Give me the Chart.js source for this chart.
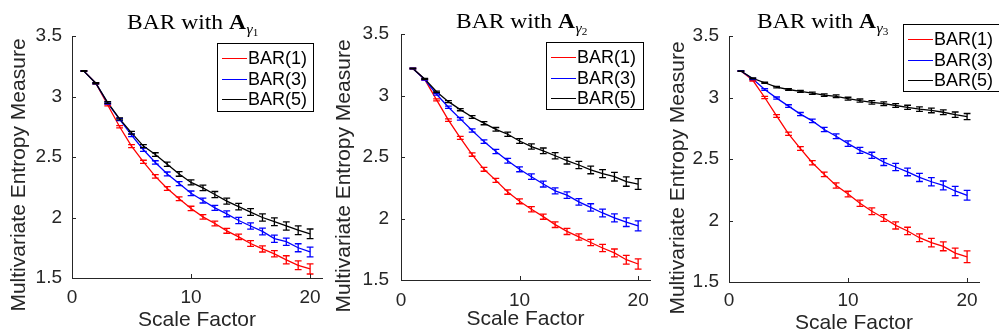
<!DOCTYPE html>
<html>
<head>
<meta charset="utf-8">
<title>Multivariate entropy of BAR models</title>
<script src="https://cdn.jsdelivr.net/npm/chart.js@4.4.1/dist/chart.umd.min.js"></script>
<style>
  html, body { margin: 0; padding: 0; background: #ffffff; }
  #wrap { position: relative; width: 999px; height: 334px; overflow: hidden; }
  .panel { position: absolute; top: 0; width: 333px; height: 334px; }
  .panel canvas { display: block; }
</style>
</head>
<body>
<div id="wrap">
  <div class="panel" style="left:0px"><canvas id="c1" width="333" height="334"></canvas></div>
  <div class="panel" style="left:333px"><canvas id="c2" width="333" height="334"></canvas></div>
  <div class="panel" style="left:666px"><canvas id="c3" width="333" height="334"></canvas></div>
</div>
<script>
// ---- data -------------------------------------------------------------
const scaleFactor = [1, 2, 3, 4, 5, 6, 7, 8, 9, 10, 11, 12, 13, 14, 15, 16, 17, 18, 19, 20];
const xTickValues = [0, 10, 20];
const yTickValues = [1.5, 2, 2.5, 3, 3.5];
const seriesNames = ['BAR(1)', 'BAR(3)', 'BAR(5)'];
const gammaIndex = ['1', '2', '3'];

// A_gamma1
const g1Bar1 = [3.21, 3.11, 2.93, 2.75, 2.59, 2.46, 2.34, 2.24, 2.155, 2.075, 2.005, 1.95, 1.89, 1.84, 1.785, 1.74, 1.70, 1.65, 1.605, 1.575];
const g1Bar3 = [3.21, 3.11, 2.945, 2.81, 2.68, 2.56, 2.455, 2.36, 2.28, 2.20, 2.14, 2.08, 2.03, 1.975, 1.93, 1.885, 1.825, 1.80, 1.75, 1.715];
const g1Bar5 = [3.21, 3.11, 2.95, 2.815, 2.70, 2.59, 2.52, 2.44, 2.36, 2.29, 2.245, 2.19, 2.135, 2.09, 2.045, 2.00, 1.965, 1.93, 1.895, 1.865];
const g1Bar1Err = [0.003, 0.005, 0.008, 0.010, 0.012, 0.013, 0.014, 0.015, 0.016, 0.018, 0.019, 0.020, 0.020, 0.022, 0.024, 0.025, 0.026, 0.034, 0.036, 0.042];
const g1Bar3Err = [0.003, 0.005, 0.008, 0.009, 0.011, 0.013, 0.014, 0.016, 0.017, 0.019, 0.020, 0.021, 0.024, 0.026, 0.026, 0.028, 0.030, 0.030, 0.033, 0.040];
const g1Bar5Err = [0.003, 0.005, 0.007, 0.009, 0.011, 0.013, 0.015, 0.017, 0.019, 0.021, 0.023, 0.025, 0.025, 0.027, 0.028, 0.030, 0.032, 0.034, 0.036, 0.040];

// A_gamma2
const g2Bar1 = [3.22, 3.13, 2.965, 2.80, 2.655, 2.52, 2.40, 2.31, 2.215, 2.14, 2.075, 2.015, 1.95, 1.895, 1.85, 1.805, 1.76, 1.72, 1.665, 1.63];
const g2Bar3 = [3.22, 3.13, 3.01, 2.905, 2.81, 2.715, 2.625, 2.545, 2.47, 2.40, 2.34, 2.28, 2.225, 2.19, 2.135, 2.09, 2.045, 2.005, 1.97, 1.94];
const g2Bar5 = [3.22, 3.135, 3.03, 2.95, 2.885, 2.825, 2.775, 2.725, 2.685, 2.63, 2.585, 2.55, 2.51, 2.47, 2.435, 2.395, 2.365, 2.34, 2.30, 2.28];
const g2Bar1Err = [0.003, 0.005, 0.008, 0.010, 0.012, 0.014, 0.016, 0.017, 0.018, 0.020, 0.021, 0.021, 0.023, 0.025, 0.025, 0.026, 0.030, 0.032, 0.036, 0.042];
const g2Bar3Err = [0.003, 0.005, 0.007, 0.009, 0.011, 0.013, 0.015, 0.017, 0.019, 0.020, 0.022, 0.024, 0.024, 0.026, 0.027, 0.030, 0.031, 0.033, 0.035, 0.040];
const g2Bar5Err = [0.003, 0.004, 0.006, 0.008, 0.009, 0.011, 0.013, 0.015, 0.017, 0.019, 0.021, 0.023, 0.025, 0.027, 0.029, 0.031, 0.033, 0.035, 0.038, 0.044];

// A_gamma3
const g3Bar1 = [3.215, 3.14, 3.00, 2.85, 2.705, 2.585, 2.47, 2.375, 2.285, 2.215, 2.14, 2.075, 2.02, 1.96, 1.915, 1.86, 1.82, 1.79, 1.735, 1.705];
const g3Bar3 = [3.215, 3.15, 3.065, 2.995, 2.93, 2.865, 2.81, 2.74, 2.685, 2.625, 2.57, 2.53, 2.475, 2.435, 2.395, 2.35, 2.315, 2.285, 2.24, 2.205];
const g3Bar5 = [3.215, 3.155, 3.12, 3.085, 3.065, 3.05, 3.035, 3.02, 3.01, 2.99, 2.975, 2.96, 2.95, 2.935, 2.92, 2.905, 2.895, 2.88, 2.86, 2.845];
const g3Bar1Err = [0.003, 0.006, 0.009, 0.011, 0.013, 0.015, 0.017, 0.019, 0.021, 0.023, 0.025, 0.027, 0.027, 0.029, 0.030, 0.032, 0.034, 0.036, 0.040, 0.048];
const g3Bar3Err = [0.003, 0.005, 0.007, 0.009, 0.011, 0.013, 0.015, 0.017, 0.019, 0.022, 0.024, 0.025, 0.028, 0.030, 0.031, 0.033, 0.034, 0.036, 0.038, 0.040];
const g3Bar5Err = [0.002, 0.004, 0.005, 0.006, 0.007, 0.008, 0.009, 0.010, 0.011, 0.012, 0.013, 0.014, 0.015, 0.016, 0.017, 0.018, 0.019, 0.020, 0.022, 0.025];

// ---- styling ----------------------------------------------------------
const W = 333, H = 334;
const seriesColors = ['#ff0000', '#0000ff', '#000000'];
const axisColor = '#262626';
const sansFamily = '"Liberation Sans", Arial, Helvetica, sans-serif';
const serifFamily = '"Liberation Serif", "Times New Roman", serif';
const capHalf = 3.4;
const lineW = 1.3;

const panels = [
  { id: 'c1', means: [g1Bar1, g1Bar3, g1Bar5], errs: [g1Bar1Err, g1Bar3Err, g1Bar5Err], sub: gammaIndex[0],
    area: { l: 72, r: 322, t: 36, b: 278 }, titleX: 127, titleY: 29, yLabelX: 19, yLabelY: 175,
    yTickPad: 10, xTickPad: 8, xTitlePad: 3, legend: { x: 217, y: 43, w: 96, h: 68 } },
  { id: 'c2', means: [g2Bar1, g2Bar3, g2Bar5], errs: [g2Bar1Err, g2Bar3Err, g2Bar5Err], sub: gammaIndex[1],
    area: { l: 68, r: 317, t: 34, b: 280 }, titleX: 123, titleY: 28, yLabelX: 11, yLabelY: 176,
    yTickPad: 12, xTickPad: 9, xTitlePad: 4, legend: { x: 213, y: 42, w: 97, h: 67 } },
  { id: 'c3', means: [g3Bar1, g3Bar3, g3Bar5], errs: [g3Bar1Err, g3Bar3Err, g3Bar5Err], sub: gammaIndex[2],
    area: { l: 63, r: 313, t: 36, b: 282 }, titleX: 91, titleY: 28, yLabelX: 12, yLabelY: 178,
    yTickPad: 10, xTickPad: 7, xTitlePad: 0, legend: { x: 237, y: 24, w: 97, h: 67 } }
];

function buildDatasets(means, errs) {
  return means.map((m, k) => ({
    label: seriesNames[k],
    data: scaleFactor.map((s, j) => ({ x: s, y: m[j] })),
    errors: errs[k],
    borderColor: seriesColors[k],
    backgroundColor: seriesColors[k],
    borderWidth: lineW,
    pointRadius: 0,
    pointHoverRadius: 0,
    tension: 0,
    fill: false,
    order: 2 - k
  }));
}

// error bars, inward ticks, legend box, title and y label
function makeDecor(p) {
  const crisp = v => Math.round(v) + 0.5;
  return {
    id: 'panelDecor',
    afterDatasetsDraw(chart) {
      const ctx = chart.ctx, xs = chart.scales.x, ys = chart.scales.y;
      chart.data.datasets.forEach(ds => {
        ctx.save();
        ctx.strokeStyle = ds.borderColor;
        ctx.lineWidth = lineW;
        ds.data.forEach((pt, j) => {
          const e = ds.errors[j];
          const px = xs.getPixelForValue(pt.x);
          const yLo = ys.getPixelForValue(pt.y - e);
          const yHi = ys.getPixelForValue(pt.y + e);
          ctx.beginPath();
          ctx.moveTo(px, yLo); ctx.lineTo(px, yHi);
          ctx.moveTo(px - capHalf, yLo); ctx.lineTo(px + capHalf, yLo);
          ctx.moveTo(px - capHalf, yHi); ctx.lineTo(px + capHalf, yHi);
          ctx.stroke();
        });
        ctx.restore();
      });
    },
    afterDraw(chart) {
      const ctx = chart.ctx, xs = chart.scales.x, ys = chart.scales.y;
      const area = chart.chartArea;
      ctx.save();
      // tick marks pointing into the plot
      ctx.strokeStyle = axisColor;
      ctx.lineWidth = 1;
      ctx.beginPath();
      xTickValues.forEach(v => {
        const px = crisp(xs.getPixelForValue(v));
        ctx.moveTo(px, area.bottom); ctx.lineTo(px, area.bottom - 4);
      });
      yTickValues.forEach(v => {
        const py = crisp(ys.getPixelForValue(v));
        ctx.moveTo(area.left, py); ctx.lineTo(area.left + 4, py);
      });
      ctx.stroke();

      // boxed legend
      const lg = p.legend;
      ctx.fillStyle = '#ffffff';
      ctx.fillRect(lg.x, lg.y, lg.w, lg.h);
      ctx.strokeStyle = '#000000';
      ctx.strokeRect(lg.x + 0.5, lg.y + 0.5, lg.w, lg.h);
      const rowOffsets = [15, 35.5, 56];
      ctx.font = '18px ' + sansFamily;
      ctx.textBaseline = 'middle';
      ctx.textAlign = 'left';
      chart.data.datasets.forEach((ds, k) => {
        const ry = Math.round(lg.y + rowOffsets[k]) + 0.5;
        ctx.strokeStyle = ds.borderColor;
        ctx.lineWidth = 1;
        ctx.beginPath();
        ctx.moveTo(lg.x + 5, ry); ctx.lineTo(lg.x + 30, ry);
        ctx.stroke();
        ctx.fillStyle = '#000000';
        ctx.fillText(ds.label, lg.x + 31, ry + 1);
      });

      // title: BAR with bold A, subscript gamma_k
      ctx.save();
      ctx.translate(p.titleX, p.titleY);
      ctx.scale(1.12, 1);
      ctx.fillStyle = '#000000';
      ctx.textBaseline = 'alphabetic';
      let cx = 0;
      ctx.font = '21px ' + serifFamily;
      const head = 'BAR with ';
      ctx.fillText(head, cx, 0); cx += ctx.measureText(head).width;
      ctx.font = 'bold 21px ' + serifFamily;
      ctx.fillText('A', cx, 0); cx += ctx.measureText('A').width + 0.5;
      ctx.font = 'italic 14px ' + serifFamily;
      ctx.fillText('\u03B3', cx, 5); cx += ctx.measureText('\u03B3').width;
      ctx.font = '10px ' + serifFamily;
      ctx.fillText(p.sub, cx, 7);
      ctx.restore();

      // y-axis label
      ctx.save();
      ctx.translate(p.yLabelX, p.yLabelY);
      ctx.rotate(-Math.PI / 2);
      ctx.font = '21px ' + sansFamily;
      ctx.fillStyle = axisColor;
      ctx.textAlign = 'center';
      ctx.textBaseline = 'middle';
      ctx.fillText('Multivariate Entropy Measure', 0, 0);
      ctx.restore();

      ctx.restore();
    }
  };
}

panels.forEach(p => {
  new Chart(document.getElementById(p.id), {
    type: 'line',
    data: { datasets: buildDatasets(p.means, p.errs) },
    options: {
      responsive: false,
      animation: false,
      devicePixelRatio: 1,
      events: [],
      layout: { padding: { left: 0, top: p.area.t, right: W - p.area.r, bottom: 0 } },
      plugins: { legend: { display: false }, tooltip: { enabled: false }, title: { display: false } },
      scales: {
        x: {
          type: 'linear', min: 0, max: 21,
          afterBuildTicks: s => { s.ticks = xTickValues.map(v => ({ value: v })); },
          afterFit: s => { s.height = H - p.area.b; },
          grid: { display: false, drawTicks: false },
          border: { display: true, color: axisColor, width: 1 },
          ticks: { color: axisColor, font: { family: sansFamily, size: 19 }, padding: p.xTickPad,
                   maxRotation: 0, autoSkip: false, callback: v => String(v) },
          title: { display: true, text: 'Scale Factor', color: axisColor,
                   font: { family: sansFamily, size: 21, lineHeight: 1 },
                   padding: { top: 0, bottom: p.xTitlePad } }
        },
        y: {
          type: 'linear', min: 1.5, max: 3.5,
          afterBuildTicks: s => { s.ticks = yTickValues.map(v => ({ value: v })); },
          afterFit: s => { s.width = p.area.l; },
          grid: { display: false, drawTicks: false },
          border: { display: true, color: axisColor, width: 1 },
          ticks: { color: axisColor, font: { family: sansFamily, size: 19 }, padding: p.yTickPad,
                   autoSkip: false, callback: v => String(v) }
        }
      }
    },
    plugins: [makeDecor(p)]
  });
});
</script>
</body>
</html>
